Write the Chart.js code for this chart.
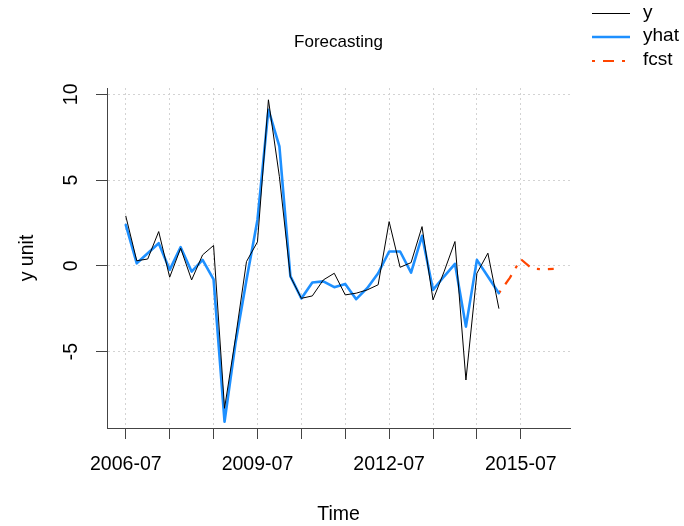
<!DOCTYPE html>
<html>
<head>
<meta charset="utf-8">
<script src="https://cdn.jsdelivr.net/npm/chart.js@4.4.1/dist/chart.umd.min.js"></script>
<style>
  html, body { margin: 0; padding: 0; background: #fff; }
  #wrap { width: 684px; height: 526px; }
</style>
</head>
<body>
<div id="wrap"><canvas id="c" width="684" height="526"></canvas></div>
<script>
// Quarterly observations
const periods = [
  "2006-07", "2006-10", "2007-01", "2007-04", "2007-07", "2007-10",
  "2008-01", "2008-04", "2008-07", "2008-10", "2009-01", "2009-04",
  "2009-07", "2009-10", "2010-01", "2010-04", "2010-07", "2010-10",
  "2011-01", "2011-04", "2011-07", "2011-10", "2012-01", "2012-04",
  "2012-07", "2012-10", "2013-01", "2013-04", "2013-07", "2013-10",
  "2014-01", "2014-04", "2014-07", "2014-10", "2015-01"
];
const yValues = [
  2.9, 0.3, 0.4, 2.0, -0.66, 1.03,
  -0.82, 0.64, 1.19, -8.3, -4.2, 0.25,
  1.4, 9.68, 5.2, -0.62, -1.89, -1.75,
  -0.82, -0.43, -1.69, -1.59, -1.4, -1.1,
  2.58, -0.08, 0.19, 2.29, -1.98, -0.35,
  1.42, -6.65, -0.43, 0.74, -2.47
];
const yhatValues = [
  2.39, 0.15, 0.74, 1.32, -0.23, 1.09,
  -0.33, 0.35, -0.78, -9.08, -4.5, -0.82,
  2.68, 9.1, 6.96, -0.6, -1.9, -0.97,
  -0.9, -1.24, -1.05, -1.94, -1.3, -0.43,
  0.84, 0.84, -0.39, 1.75, -1.4, -0.62,
  0.12, -3.54, 0.35, -0.62, -1.59
];

// Forecast horizon
const fcstPeriods = ["2015-01", "2015-04", "2015-07", "2015-10", "2016-01", "2016-04"];
const fcstValues = [-1.59, -0.7, 0.39, -0.15, -0.2, -0.17];

// Axis ticks
const xTickPeriods = ["2006-07", "2007-07", "2008-07", "2009-07", "2010-07",
                      "2011-07", "2012-07", "2013-07", "2014-07", "2015-07"];
const xTickLabels = ["2006-07", "2009-07", "2012-07", "2015-07"];
const yTickValues = [-5, 0, 5, 10];

const FONT = "'Liberation Sans', Arial, Helvetica, sans-serif";
const INK = '#000';
const AXIS = '#444';
const GRID = '#d3d3d3';

// "YYYY-MM" -> decimal year
const toYear = p => { const [yr, mo] = p.split('-').map(Number); return yr + (mo - 1) / 12; };
const series = (keys, vals) => keys.map((k, i) => ({ x: toYear(k), y: vals[i] }));

// Legend in the top-right margin, drawn from the datasets themselves
const cornerLegend = {
  id: 'cornerLegend',
  afterDraw(chart) {
    const ctx = chart.ctx;
    const x0 = 592, x1 = 630, tx = 643;
    const rows = [13.5, 37, 61];
    ctx.save();
    ctx.font = '19px ' + FONT;
    ctx.textBaseline = 'middle';
    ctx.textAlign = 'left';
    chart.data.datasets.forEach((ds, i) => {
      const yy = rows[i];
      ctx.beginPath();
      ctx.setLineDash(ds.borderDash || []);
      ctx.lineWidth = ds.borderWidth;
      ctx.strokeStyle = ds.borderColor;
      ctx.moveTo(x0, yy);
      ctx.lineTo(x1, yy);
      ctx.stroke();
      ctx.setLineDash([]);
      ctx.fillStyle = INK;
      ctx.fillText(ds.label, tx, yy - 1);
    });
    ctx.restore();
  }
};

const gridOpts = {
  color: GRID, lineWidth: 1,
  drawTicks: true, tickLength: 11, tickColor: AXIS, tickWidth: 1, tickBorderDash: []
};
// In Chart.js v4 border.dash styles the grid lines; the axis line itself stays solid
const borderOpts = { display: true, color: AXIS, width: 1, dash: [2, 3] };

const lineStyle = { pointRadius: 0, tension: 0, fill: false, borderJoinStyle: 'round', borderCapStyle: 'round' };

new Chart(document.getElementById('c'), {
  type: 'line',
  data: {
    datasets: [
      { label: 'y', data: series(periods, yValues), borderColor: '#000000',
        borderWidth: 1, ...lineStyle },
      { label: 'yhat', data: series(periods, yhatValues), borderColor: '#1E90FF',
        borderWidth: 2.6, ...lineStyle },
      { label: 'fcst', data: series(fcstPeriods, fcstValues), borderColor: '#FF4500',
        borderWidth: 2.2, borderDash: [3, 8, 11, 8], ...lineStyle, borderCapStyle: 'butt' }
    ]
  },
  options: {
    responsive: false,
    animation: false,
    devicePixelRatio: 1,
    layout: { padding: { top: 0, left: 0, right: 114, bottom: 0 } },
    plugins: {
      legend: { display: false },
      tooltip: { enabled: false },
      title: {
        display: true, text: 'Forecasting', fullSize: false,
        font: { family: FONT, size: 17, weight: 'normal' }, color: INK,
        padding: { top: 32, bottom: 35.6 }
      }
    },
    scales: {
      x: {
        type: 'linear',
        min: 2006.072, max: 2016.621,
        afterBuildTicks: s => { s.ticks = xTickPeriods.map(p => ({ value: toYear(p) })); },
        afterFit: s => { s.height = 98; },
        ticks: {
          autoSkip: false, maxRotation: 0, minRotation: 0, padding: 14,
          color: INK, font: { family: FONT, size: 19.5 },
          callback: (v, i) => xTickLabels.includes(xTickPeriods[i]) ? xTickPeriods[i] : ''
        },
        grid: gridOpts,
        border: borderOpts,
        title: {
          display: true, text: 'Time', color: INK,
          font: { family: FONT, size: 19.5 }, padding: { top: 0, bottom: 0 }
        }
      },
      y: {
        type: 'linear',
        min: -9.447, max: 10.367,
        afterBuildTicks: s => { s.ticks = yTickValues.map(v => ({ value: v })); },
        afterFit: s => { s.width = 107; },
        ticks: {
          minRotation: 90, maxRotation: 90, crossAlign: 'center', padding: 13.2,
          color: INK, font: { family: FONT, size: 19.5 },
          callback: v => String(v)
        },
        grid: gridOpts,
        border: borderOpts,
        title: {
          display: true, text: 'y unit', color: INK,
          font: { family: FONT, size: 19.5 }, padding: { top: 16, bottom: 0 }
        }
      }
    }
  },
  plugins: [cornerLegend]
});
</script>
</body>
</html>
